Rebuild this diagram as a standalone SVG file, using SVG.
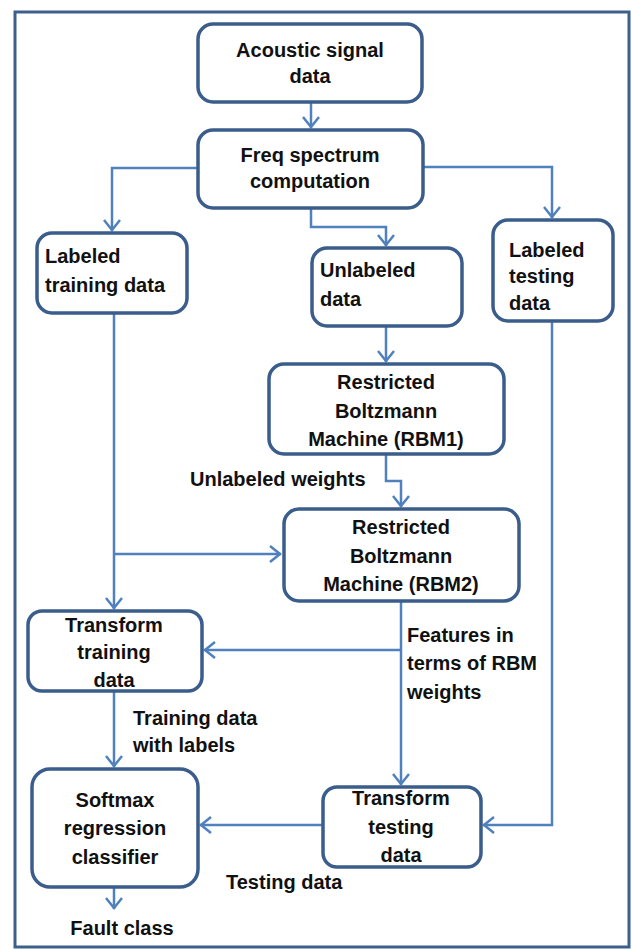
<svg xmlns="http://www.w3.org/2000/svg" width="632" height="950" viewBox="0 0 632 950">
<style>
.box{fill:#ffffff;stroke:#3a5d8c;stroke-width:3.5}
.t{font-family:"Liberation Sans",Arial,sans-serif;font-weight:bold;font-size:20px;fill:#111111}
.c{text-anchor:middle}
.ln{fill:none;stroke:#4f81bd;stroke-width:2.5;marker-end:url(#ah)}
</style>
<defs>
<marker id="ah" markerUnits="userSpaceOnUse" markerWidth="20" markerHeight="20" viewBox="-14 -10 16 20" refX="0" refY="0" orient="auto" overflow="visible">
<path d="M-11,-8 L-1,0 L-11,8" fill="none" stroke="#4f81bd" stroke-width="2.5"/>
</marker>
</defs>
<rect x="15" y="12" width="614" height="935" fill="#ffffff" stroke="#3d5f8c" stroke-width="3"/>
<g id="connectors">
<path class="ln" d="M311,102 V128"/>
<path class="ln" d="M198,168 H112 V231"/>
<path class="ln" d="M311,208 V227 H386 V246"/>
<path class="ln" d="M423,167 H552 V218"/>
<path class="ln" d="M114,313 V609"/>
<path class="ln" d="M114,554 H281"/>
<path class="ln" d="M386,326 V362"/>
<path class="ln" d="M386,454 V481 H401 V507"/>
<path class="ln" d="M401,601 V785"/>
<path class="ln" d="M401,650 H204"/>
<path class="ln" d="M552,321 V825 H483"/>
<path class="ln" d="M323,825 H200"/>
<path class="ln" d="M114,691 V767"/>
<path class="ln" d="M114,887 V909"/>
</g>
<g id="acoustic">
<rect class="box" x="198" y="24" width="224" height="78" rx="15"/>
<text class="t c" x="310" y="57">Acoustic signal</text>
<text class="t c" x="310" y="83">data</text>
</g>
<g id="freq">
<rect class="box" x="198" y="130" width="225" height="78" rx="15"/>
<text class="t c" x="310" y="162">Freq spectrum</text>
<text class="t c" x="310" y="188">computation</text>
</g>
<g id="labeled-training">
<rect class="box" x="37" y="233" width="150" height="80" rx="15"/>
<text class="t" x="45" y="263">Labeled</text>
<text class="t" x="45" y="292">training data</text>
</g>
<g id="unlabeled">
<rect class="box" x="312" y="248" width="150" height="78" rx="15"/>
<text class="t" x="320" y="277">Unlabeled</text>
<text class="t" x="320" y="306">data</text>
</g>
<g id="labeled-testing">
<rect class="box" x="493" y="220" width="120" height="101" rx="15"/>
<text class="t" x="509" y="257">Labeled</text>
<text class="t" x="509" y="283">testing</text>
<text class="t" x="509" y="310">data</text>
</g>
<g id="rbm1">
<rect class="box" x="269" y="364" width="235" height="90" rx="15"/>
<text class="t c" x="386" y="389">Restricted</text>
<text class="t c" x="386" y="418">Boltzmann</text>
<text class="t c" x="386" y="446">Machine (RBM1)</text>
</g>
<text class="t" x="190" y="486">Unlabeled weights</text>
<g id="rbm2">
<rect class="box" x="284" y="509" width="235" height="92" rx="15"/>
<text class="t c" x="401" y="534">Restricted</text>
<text class="t c" x="401" y="563">Boltzmann</text>
<text class="t c" x="401" y="591">Machine (RBM2)</text>
</g>
<g id="transform-training">
<rect class="box" x="28" y="611" width="174" height="80" rx="14"/>
<text class="t c" x="114" y="632">Transform</text>
<text class="t c" x="114" y="659">training</text>
<text class="t c" x="114" y="687">data</text>
</g>
<text class="t" x="407" y="642">Features in</text>
<text class="t" x="407" y="670">terms of RBM</text>
<text class="t" x="407" y="699">weights</text>
<text class="t" x="133" y="725">Training data</text>
<text class="t" x="133" y="752">with labels</text>
<g id="softmax">
<rect class="box" x="32" y="769" width="166" height="118" rx="18"/>
<text class="t c" x="115" y="807">Softmax</text>
<text class="t c" x="115" y="835">regression</text>
<text class="t c" x="115" y="864">classifier</text>
</g>
<g id="transform-testing">
<rect class="box" x="323" y="787" width="158" height="80" rx="14"/>
<text class="t c" x="401" y="805">Transform</text>
<text class="t c" x="401" y="834">testing</text>
<text class="t c" x="401" y="862">data</text>
</g>
<text class="t" x="226" y="889">Testing data</text>
<text class="t c" x="122" y="935">Fault class</text>
</svg>
